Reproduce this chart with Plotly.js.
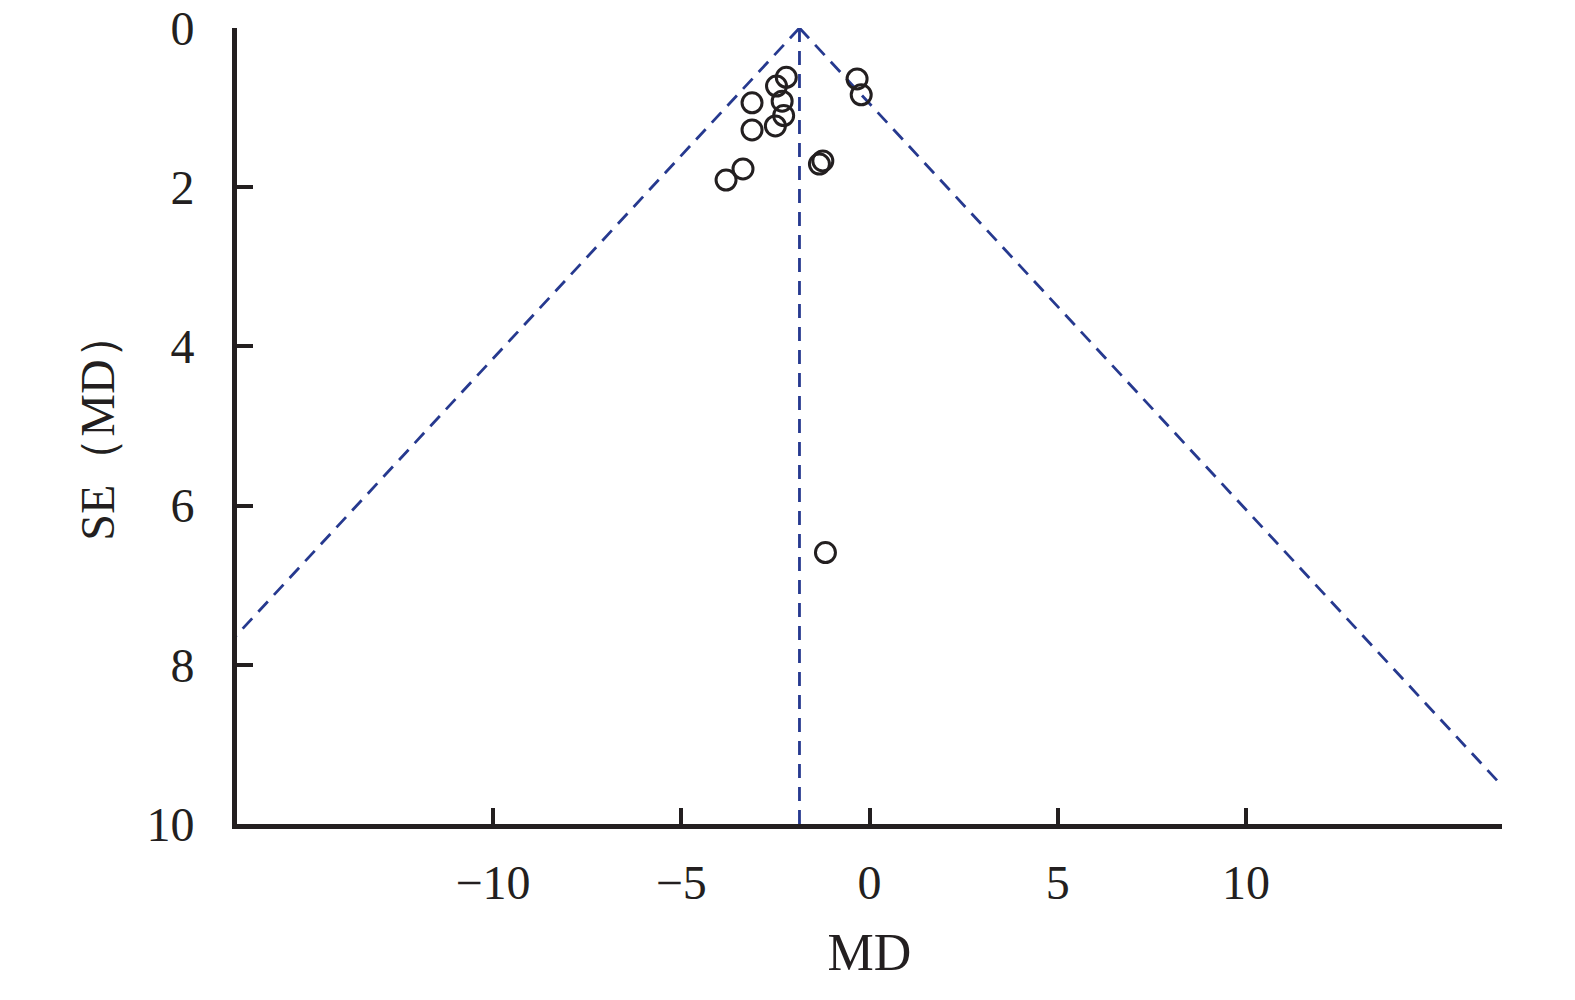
<!DOCTYPE html>
<html>
<head>
<meta charset="utf-8">
<script src="https://cdn.plot.ly/plotly-3.0.1.min.js"></script>
<style>html,body{margin:0;padding:0;background:#fff;}#chart{width:1575px;height:1000px;}</style>
</head>
<body>
<div id="chart"></div>
<script>
// Study points: mean difference (MD) and its standard error SE(MD)
const studyMD = [-2.21, -2.47, -3.12, -2.32, -2.28, -3.12, -2.50, -3.36, -3.81, -0.33, -0.22, -1.24, -1.33, -1.17];
const studySE = [0.62, 0.73, 0.94, 0.92, 1.10, 1.28, 1.23, 1.77, 1.91, 0.64, 0.84, 1.67, 1.71, 6.59];

// Pooled estimate (vertical line) and 95% pseudo-confidence funnel limits
const pooledX = [-1.86, -1.86];
const pooledY = [0, 10];
const funnelLeftX = [-1.86, -21.46];
const funnelLeftY = [0, 10];
const funnelRightX = [-1.86, 17.74];
const funnelRightY = [0, 10];

// Axis ticks
const xTicks = [-10, -5, 0, 5, 10];
const yTicks = [0, 2, 4, 6, 8, 10];

const blue = '#26398f';
const ink = '#231f20';
const serif = 'Liberation Serif, DejaVu Serif, serif';

const dashLine = {color: blue, width: 2.8, dash: '14px,9px'};

const traces = [
  {x: funnelLeftX, y: funnelLeftY, mode: 'lines', line: dashLine, hoverinfo: 'skip'},
  {x: funnelRightX, y: funnelRightY, mode: 'lines', line: dashLine, hoverinfo: 'skip'},
  {x: pooledX, y: pooledY, mode: 'lines', line: dashLine, hoverinfo: 'skip'},
  {x: studyMD, y: studySE, mode: 'markers', cliponaxis: false,
   marker: {symbol: 'circle-open', size: 20, color: ink, line: {color: ink, width: 3}}}
];

const layout = {
  width: 1575, height: 1000,
  paper_bgcolor: '#ffffff', plot_bgcolor: '#ffffff',
  showlegend: false,
  margin: {l: 237, r: 73, t: 28, b: 176, pad: 0},
  font: {family: serif, color: ink, size: 48},
  xaxis: {
    range: [-16.8, 16.8], tickvals: xTicks, ticktext: xTicks.map(v => v < 0 ? '\u2212' + Math.abs(v) : String(v)),
    showgrid: false, zeroline: false, showline: true, linecolor: ink, linewidth: 5,
    ticks: 'inside', ticklen: 16, tickwidth: 4, tickcolor: ink,
    tickfont: {family: serif, size: 48, color: ink}, ticklabelstandoff: 12,
    title: {text: 'MD', font: {family: serif, size: 52, color: ink}, standoff: 28}
  },
  yaxis: {
    range: [10, 0], tickvals: yTicks,
    showgrid: false, zeroline: false, showline: true, linecolor: ink, linewidth: 5,
    ticks: 'inside', ticklen: 16, tickwidth: 4, tickcolor: ink,
    tickfont: {family: serif, size: 48, color: ink}, ticklabelstandoff: 28,
    title: {text: 'SE\uFF08MD\uFF09', font: {family: serif, size: 48, color: ink}, standoff: 18}
  }
};

Plotly.newPlot('chart', traces, layout, {displayModeBar: false, staticPlot: true});
</script>
</body>
</html>
